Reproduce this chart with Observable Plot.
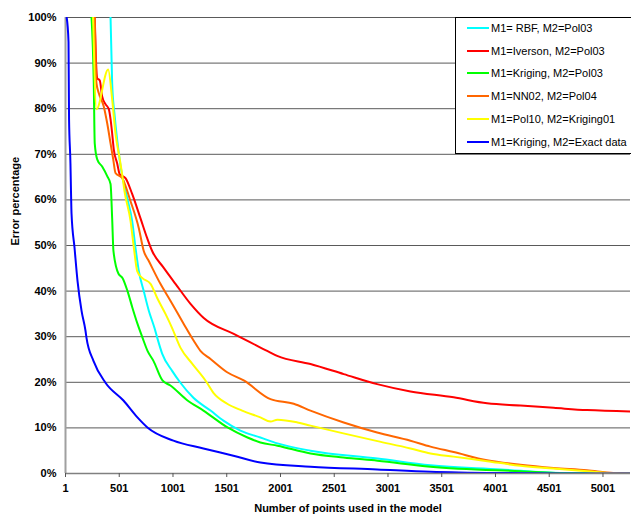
<!DOCTYPE html>
<html>
<head>
<meta charset="utf-8">
<script src="https://cdn.jsdelivr.net/npm/d3@7"></script>
<script src="https://cdn.jsdelivr.net/npm/@observablehq/plot@0.6"></script>
<style>
  html, body { margin: 0; padding: 0; background: #fff; }
  #wrap { position: relative; width: 631px; height: 516px; font-family: "Liberation Sans", Arial, sans-serif; }
  #legend { position: absolute; left: 455px; top: 17px; width: 180px; height: 137px; background: #fff;
            border: 1px solid #000; box-sizing: border-box; }
  #legend .item { position: absolute; left: 11px; height: 14px; display: flex; align-items: center;
                  font-size: 11px; color: #000; white-space: nowrap; }
  #legend .sw { width: 22px; height: 2px; margin-right: 2px; }
</style>
</head>
<body>
<div id="wrap"></div>
<script>
// ---- data ----
const seriesNames = [
  "M1= RBF, M2=Pol03",
  "M1=Iverson, M2=Pol03",
  "M1=Kriging, M2=Pol03",
  "M1=NN02, M2=Pol04",
  "M1=Pol10, M2=Kriging01",
  "M1=Kriging, M2=Exact data"
];
const seriesColors = ["#00FFFF", "#FF0000", "#00FF00", "#FF6600", "#FFFF00", "#0000FF"];

const xTicks = [1, 501, 1001, 1501, 2001, 2501, 3001, 3501, 4001, 4501, 5001];
const yTicks = [0, 10, 20, 30, 40, 50, 60, 70, 80, 90, 100];

const rbfPol03 = [[420,100],[435,85.6],[459,78.3],[497,70.2],[513,67.4],[575,60.4],[621,55.4],[652,49.5],
  [683,44.4],[729,40],[776,35.7],[829,31.9],[854,29.8],[900,26.3],[993,22.5],[1070,19.9],[1191,16.6],
  [1350,13.8],[1470,11.6],[1628,9.4],[1814,7.9],[1973,6.6],[2280,5],[2903,3.3],[3396,1.8],[4046,0.9],
  [4600,0.1],[5257,0]];
const iversonPol03 = [[273,100],[285,90.4],[296,86.7],[320,86.2],[342,82.7],[373,81],[404,79.9],[420,77.7],
  [435,74.6],[450,71.1],[482,68],[506,65.6],[559,64.8],[621,61.3],[698,56],[761,51.6],[807,48.8],
  [915,45.1],[1024,41.6],[1164,37.2],[1287,34.1],[1566,30.6],[1877,26.9],[1970,25.8],[2280,24],
  [2589,21.8],[2900,19.6],[3210,18],[3612,16.7],[3923,15.4],[4233,14.9],[4542,14.4],[4852,13.9],[5255,13.6]];
const krigingPol03 = [[243,100],[264,85.6],[273,72.4],[296,68.9],[342,67.3],[389,65.2],[420,63.5],[435,56],
  [447,48.8],[494,43.8],[531,42.9],[578,40],[624,36.3],[671,32.8],[717,29.8],[764,26.9],[819,24.7],
  [903,20.4],[977,19.3],[1136,16],[1284,13.8],[1508,10.1],[1694,7.9],[1814,6.8],[1973,6.1],[2280,4.4],
  [2586,3.5],[2903,2.8],[3396,1.5],[4233,0.5],[4700,0.05],[5257,0]];
const nn02Pol04 = [[273,100],[289,85.6],[311,83.4],[357,80.5],[389,76.8],[420,72.4],[445,68.9],[466,65.9],
  [528,64.8],[606,59.7],[683,53.8],[729,48.8],[776,46.6],[884,41.6],[977,37.9],[1101,32.8],[1194,29.1],
  [1256,26.9],[1350,25.1],[1505,22.2],[1659,20.4],[1908,16.3],[2124,15.3],[2280,13.8],[2589,11.2],
  [2900,9],[3210,7.2],[3396,5.9],[3612,4.7],[3923,2.9],[4233,1.9],[4542,1.2],[4852,0.7],[5097,0.1],[5257,0]];
const pol10Kriging01 = [[258,100],[289,79.9],[398,88.6],[435,82.1],[466,74.6],[506,68.9],[528,65.6],[550,61.9],
  [606,55.4],[637,49.5],[668,44.4],[714,42.9],[792,41.6],[854,38.5],[931,35],[993,31.9],[1070,27.6],
  [1179,24.1],[1303,20.4],[1377,17.7],[1505,15.3],[1644,13.8],[1814,12.3],[1908,11.4],[1973,11.8],
  [2159,11.2],[2280,10.5],[2586,8.8],[2903,7.1],[3210,5.5],[3396,4.4],[3610,3.7],[3925,2.7],[4233,1.7],
  [4539,1.1],[4855,0.5],[5116,0.05],[5257,0]];
const krigingExact = [[12,100],[29,94.7],[34,77.7],[47,68],[52,62],[57,57],[85,49.5],[113,42.2],[150,35.7],
  [187,31.3],[196,29.8],[261,24.7],[373,19.9],[540,16],[670,12.3],[763,10.1],[1005,7.2],[1284,5.5],
  [1563,3.9],[1814,2.4],[2280,1.5],[2900,0.9],[3395,0.4],[4046,0.1],[4600,0],[5257,0]];

const allSeries = [rbfPol03, iversonPol03, krigingPol03, nn02Pol04, pol10Kriging01, krigingExact];

const rows = allSeries.flatMap((s, i) => s.map(([x, y]) => ({x, y, name: seriesNames[i]})));

const font = "'Liberation Sans', Arial, sans-serif";

const chart = Plot.plot({
  width: 631,
  height: 516,
  marginLeft: 65,
  marginRight: 1,
  marginTop: 17,
  marginBottom: 43,
  style: {fontFamily: font, background: "#fff", overflow: "visible"},
  x: {domain: [1, 5257]},
  y: {domain: [0, 100]},
  color: {domain: seriesNames, range: seriesColors},
  marks: [
    Plot.ruleY(yTicks, {stroke: "#5a5a5a", strokeWidth: 1}),
    Plot.ruleX([1], {stroke: "#a0a0a0", strokeWidth: 2}),
    Plot.line(rows, {x: "x", y: "y", z: "name", stroke: "name", strokeWidth: 2, curve: "monotone-x", clip: true}),
    Plot.ruleY([0], {stroke: "#808080", strokeWidth: 1.5}),
    Plot.axisX({ticks: xTicks, tickFormat: d => String(d), tickSize: 4, tickPadding: 7,
      fontSize: 11, fontWeight: "bold", label: null, stroke: "#555"}),
    Plot.axisY({ticks: yTicks, tickFormat: d => d + "%", tickSize: 0, tickPadding: 9,
      fontSize: 11, fontWeight: "bold", label: null}),
    Plot.text(["Number of points used in the model"], {frameAnchor: "bottom", dy: 38,
      fontSize: 11, fontWeight: "bold", fill: "#000"}),
    Plot.text(["Error percentage"], {frameAnchor: "left", dx: -50, rotate: -90,
      fontSize: 11, fontWeight: "bold", fill: "#000"})
  ]
});

const wrap = document.getElementById("wrap");
wrap.appendChild(chart);

// legend (inside plot area, top right)
const legend = document.createElement("div");
legend.id = "legend";
seriesNames.forEach((name, i) => {
  const item = document.createElement("div");
  item.className = "item";
  item.style.top = (3 + i * 22.7) + "px";
  const sw = document.createElement("span");
  sw.className = "sw";
  sw.style.background = seriesColors[i];
  const label = document.createElement("span");
  label.textContent = name;
  item.appendChild(sw);
  item.appendChild(label);
  legend.appendChild(item);
});
wrap.appendChild(legend);
</script>
</body>
</html>
